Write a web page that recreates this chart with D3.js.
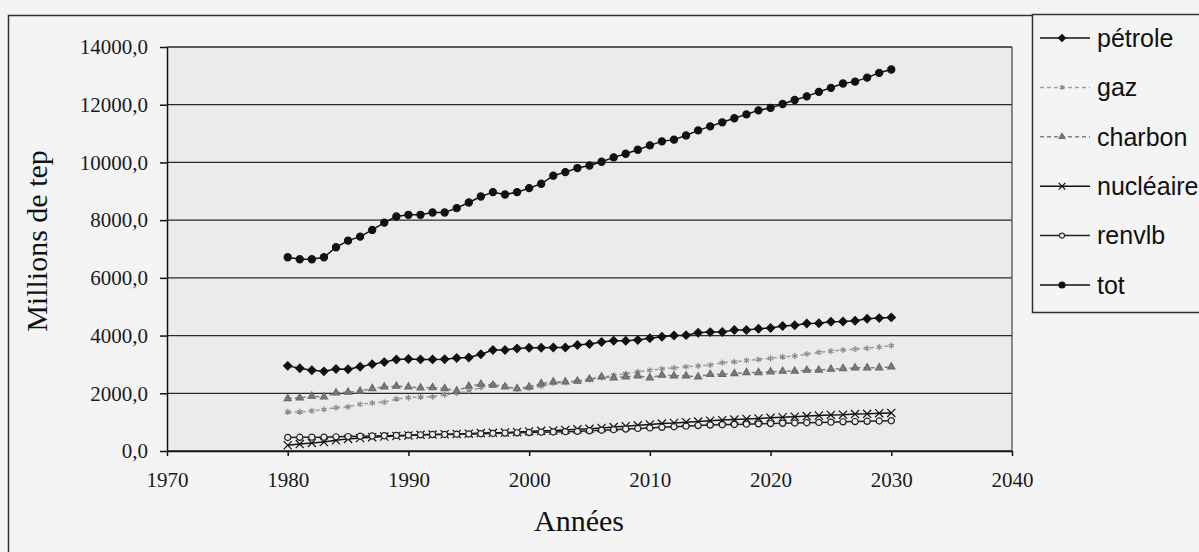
<!DOCTYPE html>
<html>
<head>
<meta charset="utf-8">
<script src="https://cdn.jsdelivr.net/npm/d3@7"></script>
<style>
    body { margin: 0; background: #f4f4f4; }
    svg { display: block; }
</style>
</head>
<body>
<div id="container"></div>
<script>
// projections 1980-2030, millions de tep
const years = d3.range(1980, 2031)
const petrole = [2950, 2870, 2800, 2760, 2840, 2830, 2920, 3010, 3080, 3170, 3190, 3175, 3175, 3180, 3220, 3240,
    3350, 3500, 3500, 3555, 3575, 3580, 3585, 3590, 3670, 3705, 3775, 3820, 3820, 3845, 3910, 3960, 4005, 4015,
    4095, 4120, 4125, 4190, 4195, 4235, 4260, 4330, 4355, 4420, 4425, 4480, 4485, 4515, 4580, 4605, 4630]
const gaz = [1355, 1355, 1390, 1440, 1505, 1530, 1620, 1665, 1690, 1805, 1850, 1875, 1880, 1950, 2000, 2080,
    2200, 2300, 2250, 2150, 2180, 2250, 2350, 2380, 2420, 2480, 2550, 2620, 2680, 2740, 2800, 2850, 2880, 2920,
    2950, 2980, 3060, 3090, 3140, 3170, 3210, 3260, 3290, 3360, 3420, 3460, 3500, 3530, 3560, 3600, 3650]
const charbon = [1820, 1840, 1900, 1875, 2015, 2040, 2075, 2165, 2220, 2245, 2220, 2190, 2200, 2165, 2085, 2245,
    2315, 2280, 2220, 2165, 2220, 2340, 2395, 2395, 2420, 2490, 2570, 2535, 2570, 2605, 2535, 2630, 2605, 2605,
    2570, 2655, 2655, 2685, 2720, 2720, 2745, 2765, 2770, 2800, 2805, 2835, 2860, 2880, 2885, 2885, 2915]
const nucleaire = [200, 240, 280, 310, 370, 420, 450, 480, 500, 520, 540, 560, 570, 580, 590, 600, 620, 630, 640,
    660, 680, 700, 710, 730, 750, 770, 800, 830, 860, 890, 920, 950, 970, 1000, 1020, 1050, 1070, 1090, 1110,
    1130, 1150, 1170, 1190, 1210, 1230, 1250, 1260, 1280, 1290, 1310, 1320]
const renvlb = [470, 475, 480, 480, 490, 500, 510, 520, 530, 540, 550, 560, 570, 575, 580, 590, 600, 610, 620,
    630, 640, 650, 660, 670, 680, 700, 720, 740, 760, 780, 800, 820, 840, 860, 880, 900, 910, 920, 930, 940, 950,
    960, 970, 980, 990, 1000, 1010, 1020, 1030, 1040, 1050]
const tot = [6715, 6645, 6645, 6715, 7060, 7290, 7430, 7660, 7915, 8125, 8185, 8185, 8265, 8265, 8415, 8610,
    8820, 8970, 8890, 8970, 9110, 9260, 9540, 9665, 9805, 9895, 10025, 10175, 10300, 10440, 10590, 10730, 10790,
    10935, 11110, 11250, 11390, 11530, 11665, 11805, 11890, 12025, 12165, 12290, 12445, 12585, 12735, 12800,
    12940, 13105, 13220]
const xTicks = [1970, 1980, 1990, 2000, 2010, 2020, 2030, 2040]
const yTicks = [0, 2000, 4000, 6000, 8000, 10000, 12000, 14000]

const w = 1199
const h = 552
const plot = { left: 167, right: 1012, top: 47, bottom: 451 }

const series = [
    { name: "pétrole", values: petrole, symbol: d3.symbolSquare, size: 34, rot: 45, fill: "#111", stroke: "#111", line: "#111", dash: null },
    { name: "gaz", values: gaz, symbol: d3.symbolAsterisk, size: 26, rot: 0, fill: "none", stroke: "#8a8a8a", line: "#a0a0a0", dash: "4,3" },
    { name: "charbon", values: charbon, symbol: d3.symbolTriangle, size: 22, rot: 0, fill: "#7a7a7a", stroke: "#6a6a6a", line: "#808080", dash: "4,3" },
    { name: "nucléaire", values: nucleaire, symbol: d3.symbolX, size: 45, rot: 0, fill: "none", stroke: "#111", line: "#111", dash: null },
    { name: "renvlb", values: renvlb, symbol: d3.symbolCircle, size: 30, rot: 0, fill: "#ebebeb", stroke: "#222", line: "#222", dash: null },
    { name: "tot", values: tot, symbol: d3.symbolCircle, size: 40, rot: 0, fill: "#111", stroke: "#111", line: "#111", dash: null }
]

const svg = d3.select("#container")
    .append("svg")
    .attr("width", w)
    .attr("height", h)
    .style("background-color", "#f4f4f4")

// outer frame
svg.append("rect")
    .attr("x", 8.5)
    .attr("y", 15.5)
    .attr("width", 1210)
    .attr("height", 560)
    .attr("fill", "none")
    .attr("stroke", "#333")
    .attr("stroke-width", 1.5)

const xScale = d3.scaleLinear()
    .domain([1970, 2040])
    .range([plot.left, plot.right])
const yScale = d3.scaleLinear()
    .domain([0, 14000])
    .range([plot.bottom, plot.top])

svg.append("rect")
    .attr("x", plot.left)
    .attr("y", plot.top)
    .attr("width", plot.right - plot.left)
    .attr("height", plot.bottom - plot.top)
    .attr("fill", "#ebebeb")

const fr = d3.formatLocale({ decimal: ",", thousands: "", grouping: [3], currency: ["", ""] })

// gridlines
svg.append("g")
    .selectAll(null)
    .data(yTicks)
    .enter()
    .append("line")
    .attr("x1", plot.left)
    .attr("x2", plot.right)
    .attr("y1", (d) => yScale(d))
    .attr("y2", (d) => yScale(d))
    .attr("stroke", "#2a2a2a")
    .attr("stroke-width", 1.3)

svg.append("line")
    .attr("x1", plot.right)
    .attr("x2", plot.right)
    .attr("y1", plot.top)
    .attr("y2", plot.bottom)
    .attr("stroke", "#444")
    .attr("stroke-width", 1.2)

const yAxis = d3.axisLeft(yScale)
    .tickValues(yTicks)
    .tickFormat(fr.format(".1f"))
    .tickSize(7)
    .tickSizeOuter(0)
    .tickPadding(12)
const xAxis = d3.axisBottom(xScale)
    .tickValues(xTicks)
    .tickFormat(d3.format("d"))
    .tickSize(5)
    .tickSizeOuter(0)
    .tickPadding(16)

svg.append("g")
    .attr("transform", `translate(${plot.left}, 0)`)
    .call(yAxis)
svg.append("g")
    .attr("transform", `translate(0, ${plot.bottom})`)
    .call(xAxis)

svg.selectAll(".domain, .tick line")
    .attr("stroke", "#111")
    .attr("stroke-width", 1.5)
svg.selectAll(".tick text")
    .attr("fill", "#1a1a1a")
    .style("font-family", "'Liberation Serif', 'Times New Roman', serif")
    .style("font-size", "21px")

svg.append("text")
    .text("Millions de tep")
    .attr("text-anchor", "middle")
    .attr("transform", "translate(47, 241) rotate(-90)")
    .style("font-family", "'Liberation Serif', 'Times New Roman', serif")
    .style("font-size", "30px")
    .attr("fill", "#111")
svg.append("text")
    .text("Années")
    .attr("text-anchor", "middle")
    .attr("x", 579)
    .attr("y", 531)
    .style("font-family", "'Liberation Serif', 'Times New Roman', serif")
    .style("font-size", "30px")
    .attr("fill", "#111")

const line = d3.line()
    .x((d, i) => xScale(years[i]))
    .y((d) => yScale(d))

series.forEach((s) => {
    svg.append("path")
        .datum(s.values)
        .attr("d", line)
        .attr("fill", "none")
        .attr("stroke", s.line)
        .attr("stroke-width", 1.5)
        .attr("stroke-dasharray", s.dash)
    svg.append("g")
        .selectAll(null)
        .data(s.values)
        .enter()
        .append("path")
        .attr("d", d3.symbol(s.symbol, s.size))
        .attr("transform", (d, i) => `translate(${xScale(years[i])}, ${yScale(d)}) rotate(${s.rot})`)
        .attr("fill", s.fill)
        .attr("stroke", s.stroke)
        .attr("stroke-width", 1.2)
})

// legend
const legend = svg.append("g")
    .attr("transform", "translate(1032, 14)")
legend.append("rect")
    .attr("x", 0.5)
    .attr("y", 0.5)
    .attr("width", 190)
    .attr("height", 298)
    .attr("fill", "#f4f4f4")
    .attr("stroke", "#333")
    .attr("stroke-width", 1.5)

const items = legend.selectAll(null)
    .data(series)
    .enter()
    .append("g")
    .attr("transform", (d, i) => `translate(0, ${24 + i * 49.4})`)
items.append("line")
    .attr("x1", 8)
    .attr("x2", 58)
    .attr("stroke", (d) => d.line)
    .attr("stroke-width", 1.5)
    .attr("stroke-dasharray", (d) => d.dash)
items.append("path")
    .attr("d", (d) => d3.symbol(d.symbol, d.size * 0.7)())
    .attr("transform", (d) => `translate(30, 0) rotate(${d.rot})`)
    .attr("fill", (d) => d.fill)
    .attr("stroke", (d) => d.stroke)
    .attr("stroke-width", 1.2)
items.append("text")
    .text((d) => d.name)
    .attr("x", 65)
    .attr("dy", "0.35em")
    .style("font-family", "'Liberation Sans', Arial, sans-serif")
    .style("font-size", "25px")
    .attr("fill", "#111")
</script>
</body>
</html>
